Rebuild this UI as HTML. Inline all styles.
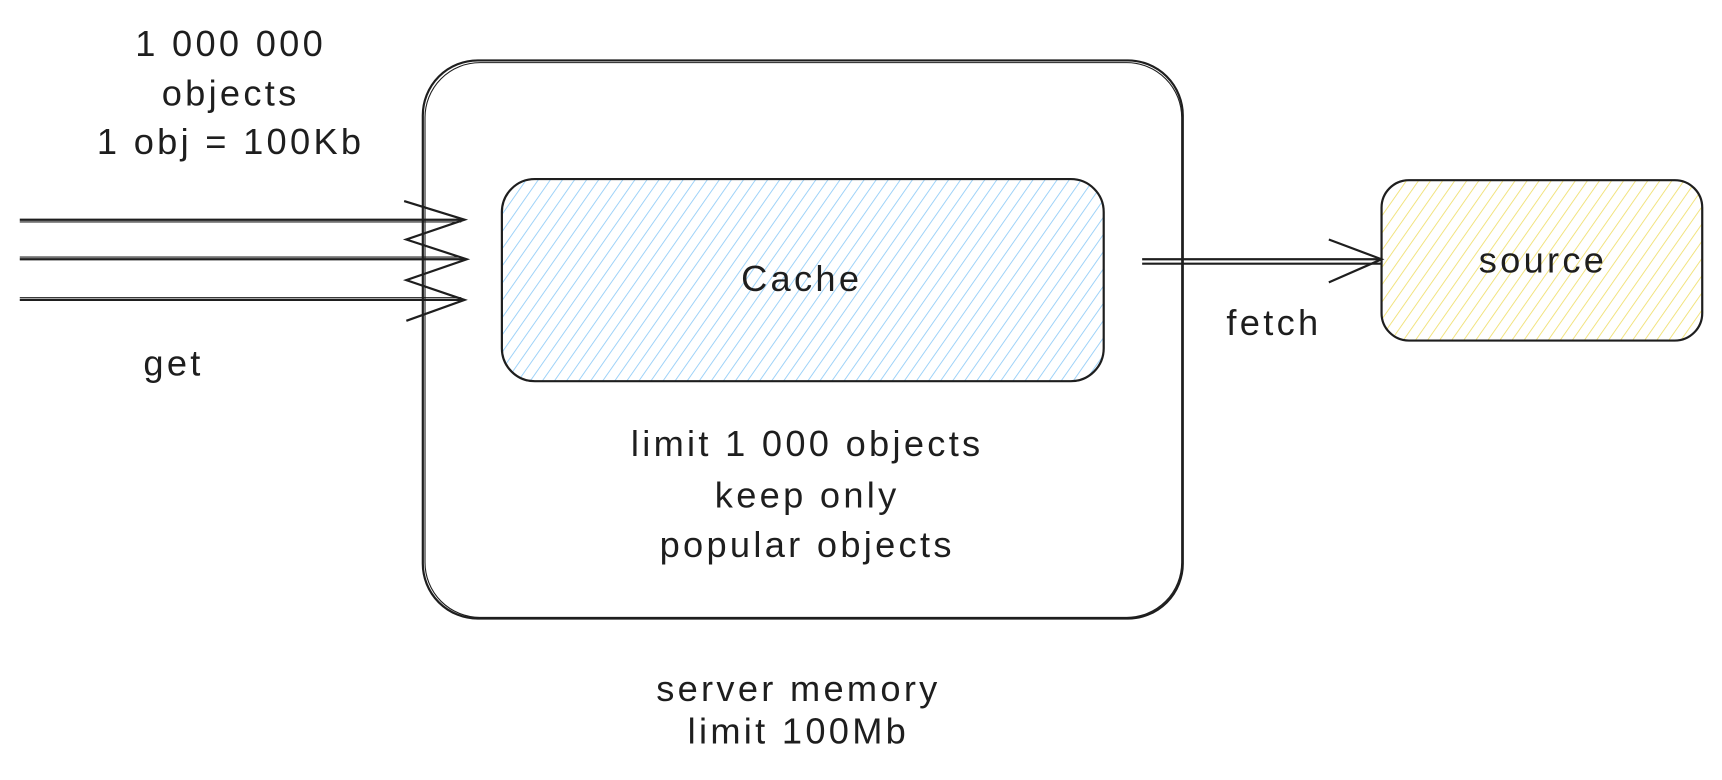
<!DOCTYPE html>
<html><head><meta charset="utf-8"><style>
html,body{margin:0;padding:0;background:#fff;width:1722px;height:780px;overflow:hidden}
svg{display:block}
text{font-family:"Liberation Sans",sans-serif;font-size:33px;letter-spacing:3px;fill:#1e1e1e;text-anchor:middle}
</style></head><body>
<svg width="1722" height="780" viewBox="0 0 1568 710" preserveAspectRatio="none">
<defs>
<pattern id="hb" width="9" height="9" patternUnits="userSpaceOnUse" patternTransform="rotate(35)">
<line x1="0" y1="0" x2="0" y2="9" stroke="#93cdf7" stroke-width="1.6"/></pattern>
<pattern id="hy" width="9" height="9" patternUnits="userSpaceOnUse" patternTransform="rotate(35)">
<line x1="0" y1="0" x2="0" y2="9" stroke="#f0e070" stroke-width="1.6"/></pattern>
</defs>
<g fill="none" stroke="#1e1e1e" stroke-width="2">
<rect x="385" y="55" width="692" height="508" rx="50"/>
<rect x="387" y="57" width="689" height="505" rx="50" stroke-width="1"/>
<rect x="457" y="163" width="548" height="184" rx="30" fill="url(#hb)"/>
<rect x="1258" y="164" width="292" height="146" rx="25" fill="url(#hy)"/>
<path d="M18 200H423M18 236H423M18 273H423"/>
<path d="M18 202H420M18 234H420M18 271H420" stroke-width="1"/>
<path d="M368 183L423 200L370 218L425 236L370 255L423 273L370 292"/>
<path d="M1040 236H1258M1040 240H1258"/>
<path d="M1210 218L1258 236L1210 257"/>
</g>
<text x="210" y="51">1 000 000</text>
<text x="210" y="96">objects</text>
<text x="210" y="140">1 obj = 100Kb</text>
<text x="158" y="342">get</text>
<text x="730" y="265">Cache</text>
<text x="1405" y="248">source</text>
<text x="1160" y="305">fetch</text>
<text x="735" y="415">limit 1 000 objects</text>
<text x="735" y="462">keep only</text>
<text x="735" y="507">popular objects</text>
<text x="727" y="638">server memory</text>
<text x="727" y="677">limit 100Mb</text>
</svg>
</body></html>
